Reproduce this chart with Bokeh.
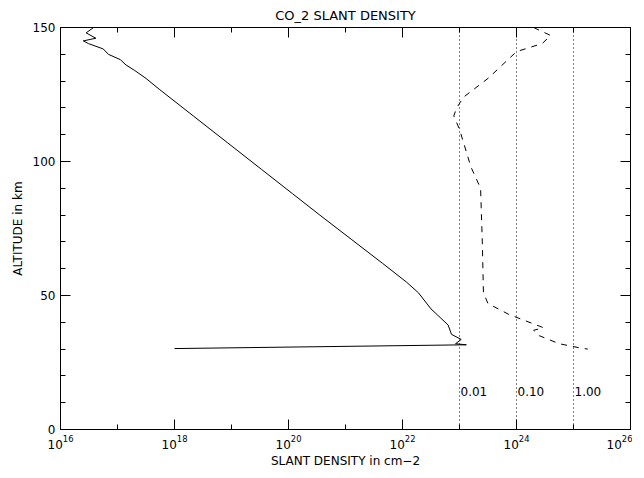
import numpy as np
from bokeh.plotting import figure
from bokeh.models import FixedTicker, LogAxis, LinearAxis, Label, Span, CustomJSTickFormatter
from bokeh.embed import file_html
from bokeh.resources import INLINE

solid_logx = [16.58, 16.45, 16.62, 16.40, 16.49, 16.75, 16.84, 17.05, 17.15, 17.3, 17.5, 17.73, 18.33, 18.93, 19.53, 20.07, 20.55, 21.1, 21.65, 22.07, 22.28, 22.5, 22.8, 22.86, 23.03, 22.93, 23.12, 18.0]
solid_alt = [150, 148, 146, 145, 144, 142, 140, 138, 136, 134, 131, 127, 117, 107, 97, 88, 80, 71, 62, 55, 51, 45, 39, 35.5, 33.6, 32, 31.6, 30.2]
dash_logx = [24.3, 24.6, 24.45, 24.0, 23.9, 23.5, 23.07, 22.95, 22.9, 23.0, 23.2, 23.37, 23.4, 23.42, 23.5, 23.86, 24.47, 24.3, 24.4, 24.75, 25.1, 25.25]
dash_alt = [150, 147, 144, 141, 139, 131, 124, 120, 117, 112, 98, 90, 70, 51, 47, 43, 38, 37, 35, 32, 30.5, 30]
frac_x = [1e23, 1e24, 1e25]
frac_labels = ["0.01", "0.10", "1.00"]

p = figure(frame_width=570, frame_height=402, x_axis_type="log", x_range=(1e16, 1e26), y_range=(0, 150),
           output_backend="svg", toolbar_location=None, title="CO_2 SLANT DENSITY",
           x_axis_label="SLANT DENSITY in cm\u22122", y_axis_label="ALTITUDE in km",
           min_border_left=60, min_border_right=2, min_border_top=2, min_border_bottom=40)
p.title.align = "center"
p.title.text_font = "DejaVu Sans"
p.title.text_font_style = "normal"
p.title.text_font_size = "13px"
p.title.text_color = "black"
p.grid.visible = False
p.outline_line_color = "black"
p.background_fill_color = "white"

xt = FixedTicker(ticks=[1e16, 1e18, 1e20, 1e22, 1e24, 1e26], minor_ticks=[1e17, 1e19, 1e21, 1e23, 1e25])
yt = FixedTicker(ticks=[0, 50, 100, 150], minor_ticks=list(range(0, 151, 10)))
for ax in [p.xaxis[0], p.yaxis[0]]:
    ax.major_tick_out = 0
    ax.major_tick_in = 10
    ax.minor_tick_out = 0
    ax.minor_tick_in = 5
    ax.axis_label_text_font = "DejaVu Sans"
    ax.axis_label_text_font_style = "normal"
    ax.axis_label_text_font_size = "12px"
    ax.axis_label_text_color = "black"
    ax.major_label_text_font = "DejaVu Sans"
    ax.major_label_text_font_size = "12px"
    ax.major_label_text_color = "black"
    ax.axis_line_color = "black"
    ax.major_tick_line_color = "black"
    ax.minor_tick_line_color = "black"
p.xaxis[0].ticker = xt
p.yaxis[0].ticker = yt
p.xaxis[0].axis_label_standoff = 2

top = LinearAxis(ticker=xt, formatter=CustomJSTickFormatter(code="return ''"), major_tick_out=0, major_tick_in=10, minor_tick_out=0, minor_tick_in=5)
right = LinearAxis(ticker=yt, formatter=CustomJSTickFormatter(code="return ''"), major_tick_out=0, major_tick_in=10, minor_tick_out=0, minor_tick_in=5)
p.add_layout(top, "above")
p.add_layout(right, "right")

p.line([10**v for v in solid_logx], solid_alt, line_color="black", line_width=1)
p.line([10**v for v in dash_logx], dash_alt, line_color="black", line_width=1, line_dash="6 6")
for xv, lab in zip(frac_x, frac_labels):
    p.add_layout(Span(location=xv, dimension="height", line_color="black", line_dash="1 3", line_width=1))
    p.add_layout(Label(x=xv, y=14, text=lab, text_font="DejaVu Sans", text_font_size="12px", text_color="black", x_offset=1, text_baseline="middle"))

open("out.html", "w").write(file_html(p, INLINE))
